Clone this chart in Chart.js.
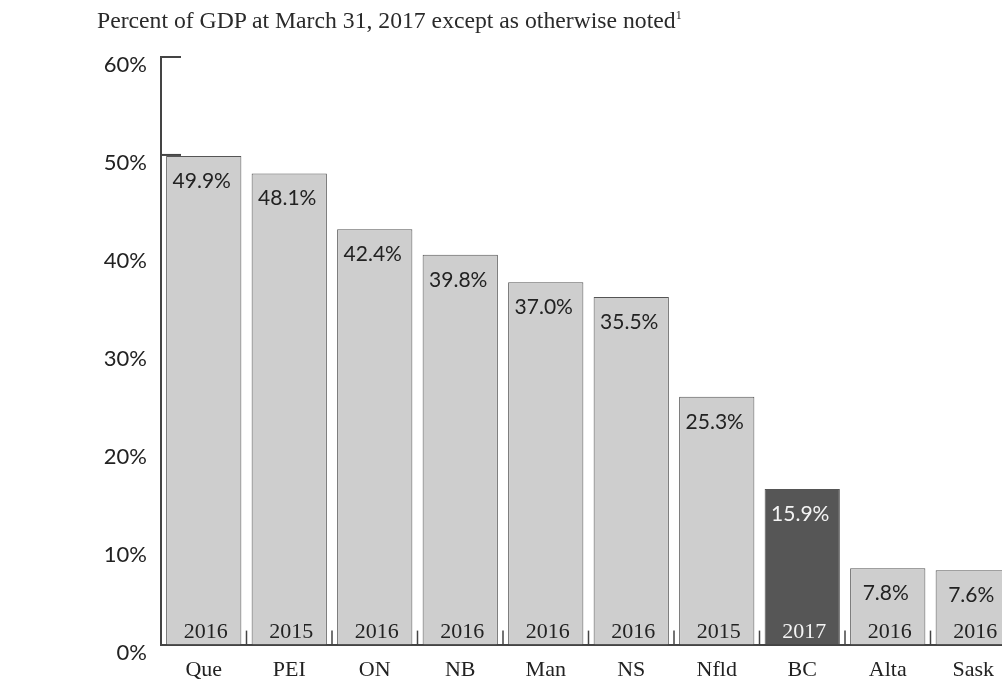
<!DOCTYPE html>
<html>
<head>
<meta charset="utf-8">
<script src="https://cdn.jsdelivr.net/npm/chart.js@4"></script>
<style>
  html, body { margin: 0; padding: 0; background: #fff; overflow: hidden; }
  #wrap { position: relative; width: 1016px; height: 689px; }
  #title {
    position: absolute; left: 97px; top: 7px;
    font-family: "Liberation Serif", serif; font-size: 23.7px; color: #2a2a2a;
    white-space: nowrap;
  }
  #title sup { font-size: 12px; vertical-align: 9px; }
</style>
</head>
<body>
<div id="wrap">
  <div id="title">Percent of GDP at March 31, 2017 except as otherwise noted<sup>1</sup></div>
  <canvas id="chart" width="1016" height="689"></canvas>
</div>
<script>
const provinces = ["Que", "PEI", "ON", "NB", "Man", "NS", "Nfld", "BC", "Alta", "Sask"]
const debtPct = [49.9, 48.1, 42.4, 39.8, 37.0, 35.5, 25.3, 15.9, 7.8, 7.6]
const years = ["2016", "2015", "2016", "2016", "2016", "2016", "2015", "2017", "2016", "2016"]
const highlight = "BC"

const axisColor = "#444"
const barColors = provinces.map(p => p === highlight ? "#565656" : "#cecece")

// value on top, year at the foot of each bar, plus the little separators on the baseline
const barLabels = {
    id: "barLabels",
    beforeDatasetsDraw(chart){
        const {ctx, scales: {x, y}} = chart
        ctx.save()
        ctx.strokeStyle = axisColor
        ctx.lineWidth = 2
        const left = chart.chartArea.left
        ;[60, 50].forEach(v => {
            const py = y.getPixelForValue(v)
            ctx.beginPath()
            ctx.moveTo(left, py)
            ctx.lineTo(left + 20, py)
            ctx.stroke()
        })
        ctx.restore()
    },
    afterDatasetsDraw(chart){
        const {ctx, scales: {x, y}} = chart
        const meta = chart.getDatasetMeta(0)
        const base = y.getPixelForValue(0)
        ctx.save()
        ctx.textAlign = "center"
        ctx.textBaseline = "middle"
        meta.data.forEach((bar, i) => {
            const light = provinces[i] === highlight
            ctx.fillStyle = light ? "#f4f4f4" : "#222"
            ctx.font = "21px Lato"
            ctx.fillText(debtPct[i].toFixed(1) + "%", bar.x - 2, bar.y + 25)
            ctx.font = "22px 'Liberation Serif'"
            ctx.fillText(years[i], bar.x + 2, base - 12)
        })
        ctx.strokeStyle = axisColor
        ctx.lineWidth = 1.5
        for(let i = 1; i < provinces.length; i++){
            const px = (x.getPixelForValue(i - 1) + x.getPixelForValue(i)) / 2
            ctx.beginPath()
            ctx.moveTo(px, base)
            ctx.lineTo(px, base - 14)
            ctx.stroke()
        }
        ctx.restore()
    }
}

new Chart(document.querySelector("#chart"), {
    type: "bar",
    data: {
        labels: provinces,
        datasets: [{
            data: debtPct,
            backgroundColor: barColors,
            borderColor: "#555",
            borderWidth: 1,
            categoryPercentage: 1,
            barPercentage: 0.88
        }]
    },
    options: {
        responsive: false,
        animation: false,
        layout: { padding: { top: 57, right: 0, left: 0, bottom: 2 } },
        plugins: { legend: { display: false }, tooltip: { enabled: false } },
        scales: {
            x: {
                grid: { display: false },
                border: { display: true, color: axisColor, width: 2 },
                ticks: { color: "#222", font: { family: "Liberation Serif", size: 22 }, padding: 4 }
            },
            y: {
                min: 0,
                max: 60,
                afterFit(scale){ scale.width = 161 },
                grid: { display: false },
                border: { display: true, color: axisColor, width: 2 },
                ticks: {
                    stepSize: 10,
                    labelOffset: 8,
                    padding: 6,
                    color: "#222",
                    font: { family: "Lato", size: 22 },
                    callback: v => v + "%"
                }
            }
        }
    },
    plugins: [barLabels]
})
</script>
</body>
</html>
